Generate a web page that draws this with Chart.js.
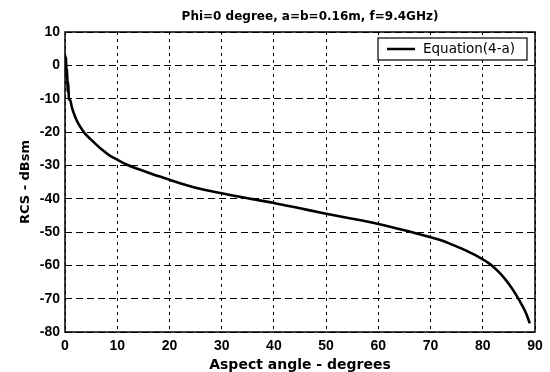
<!DOCTYPE html>
<html><head><meta charset="utf-8">
<script src="https://cdn.jsdelivr.net/npm/chart.js@4/dist/chart.umd.min.js"></script>
<style>html,body{margin:0;padding:0;background:#fff}#wrap{width:550px;height:372px}</style>
</head><body><div id="wrap"><canvas id="c" width="550" height="372"></canvas></div>
<script>
const chartTitle = 'Phi=0 degree, a=b=0.16m, f=9.4GHz)';
const xAxisTitle = 'Aspect angle - degrees';
const yAxisTitle = 'RCS - dBsm';
const seriesLabel = 'Equation(4-a)';
const aspectAngles = [0, 0.1, 0.2, 0.3, 0.4, 0.5, 0.6, 0.75, 1.0, 1.3, 1.6, 2.2, 2.9, 3.8, 5, 6, 7, 8.5, 10, 12, 14, 16, 18, 20, 22.5, 25, 30, 35, 40, 45, 50, 55, 60, 65, 70, 72, 74, 76, 78, 79, 80, 81, 82, 83, 84, 85, 86, 87, 88, 88.5, 89];
const rcsValues = [3, -1, 2.5, -4, -1, -8, -5, -10, -10.5, -12.5, -14, -16.4, -18.4, -20.4, -22.3, -23.8, -25.2, -27, -28.3, -29.9, -31.1, -32.2, -33.3, -34.3, -35.6, -36.7, -38.4, -39.9, -41.3, -42.9, -44.5, -46.0, -47.6, -49.5, -51.6, -52.5, -53.7, -55.0, -56.5, -57.3, -58.2, -59.2, -60.4, -61.9, -63.6, -65.6, -67.9, -70.5, -73.4, -75.2, -77.4];
const xTickValues = [0, 10, 20, 30, 40, 50, 60, 70, 80, 90];
const yTickValues = [10, 0, -10, -20, -30, -40, -50, -60, -70, -80];

const framePlugin = {
  id: 'frame',
  beforeDatasetsDraw(chart) {
    const {ctx, chartArea: a} = chart;
    ctx.save();
    ctx.setLineDash([]);
    ctx.strokeStyle = '#000';
    ctx.lineWidth = 1.5;
    ctx.strokeRect(a.left, a.top, a.right - a.left, a.bottom - a.top);
    ctx.restore();
  },
  afterDraw(chart) {
    const {ctx} = chart;
    ctx.save();
    // title
    ctx.fillStyle = '#000';
    ctx.font = 'bold 12px "DejaVu Sans"';
    ctx.textAlign = 'center';
    ctx.textBaseline = 'middle';
    ctx.fillText(chartTitle, 310, 17);
    // legend
    const ds = chart.data.datasets[0];
    const bx = 378, by = 38, bw = 149, bh = 22;
    ctx.fillStyle = '#fff';
    ctx.fillRect(bx, by, bw, bh);
    ctx.strokeStyle = '#000';
    ctx.lineWidth = 1.2;
    ctx.strokeRect(bx, by, bw, bh);
    ctx.lineWidth = 2.5;
    ctx.beginPath();
    ctx.moveTo(bx + 9, by + 11);
    ctx.lineTo(bx + 37, by + 11);
    ctx.stroke();
    ctx.fillStyle = '#000';
    ctx.font = '13.5px "DejaVu Sans"';
    ctx.textAlign = 'left';
    ctx.fillText(ds.label, bx + 45, by + 11.5);
    ctx.restore();
  }
};

new Chart(document.getElementById('c'), {
  type: 'line',
  data: {
    datasets: [{
      label: seriesLabel,
      data: aspectAngles.map((a, i) => ({x: a, y: rcsValues[i]})),
      borderColor: '#000',
      backgroundColor: '#000',
      borderWidth: 2.6,
      pointRadius: 0,
      cubicInterpolationMode: 'monotone',
      fill: false
    }]
  },
  options: {
    responsive: false,
    animation: false,
    devicePixelRatio: 1,
    layout: {padding: {top: 32, right: 15, bottom: 0, left: 0}},
    plugins: {legend: {display: false}, title: {display: false}, tooltip: {enabled: false}},
    scales: {
      x: {
        type: 'linear', min: 0, max: 90,
        afterFit(s) { s.height = 40; },
        afterBuildTicks(s) { s.ticks = xTickValues.map(v => ({value: v})); },
        ticks: {color: '#000', padding: 6, font: {family: '"Liberation Sans"', size: 14, weight: 'bold'}, maxRotation: 0},
        grid: {color: '#000', lineWidth: 1, drawTicks: false},
        border: {display: false, dash: [3, 4]},
        title: {display: true, text: xAxisTitle, color: '#000', font: {family: '"DejaVu Sans"', size: 14, weight: 'bold', lineHeight: 1}, padding: {top: 0, bottom: 0}}
      },
      y: {
        type: 'linear', min: -80, max: 10,
        afterFit(s) { s.width = 65; },
        afterBuildTicks(s) { s.ticks = yTickValues.map(v => ({value: v})); },
        ticks: {color: '#000', padding: 5, font: {family: '"Liberation Sans"', size: 14, weight: 'bold'}},
        grid: {color: '#000', lineWidth: 1, drawTicks: false},
        border: {display: false, dash: [7, 4]},
        title: {display: true, text: yAxisTitle, color: '#000', font: {family: '"DejaVu Sans"', size: 13, weight: 'bold'}, padding: {top: 18, bottom: 0}}
      }
    }
  },
  plugins: [framePlugin]
});
</script>
</body></html>
